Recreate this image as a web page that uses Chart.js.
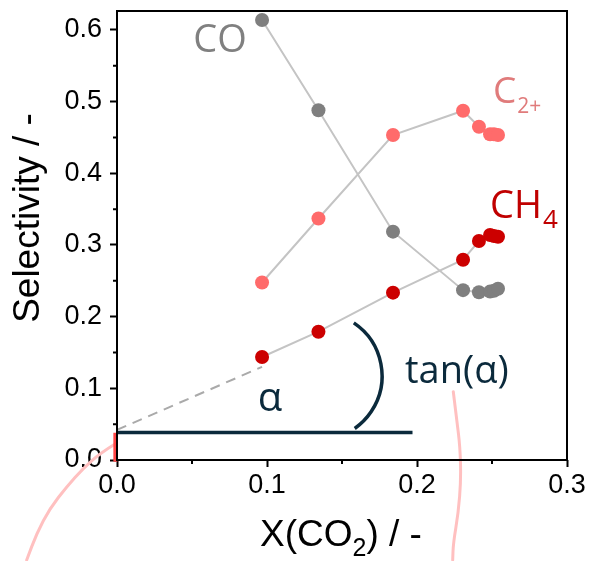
<!DOCTYPE html>
<html>
<head>
<meta charset="utf-8">
<script src="https://cdn.jsdelivr.net/npm/chart.js@4.4.0/dist/chart.umd.min.js"></script>
<style>
  html, body { margin: 0; padding: 0; background: #fff; }
  #wrap { width: 591px; height: 561px; }
</style>
</head>
<body>
<div id="wrap"><canvas id="selChart" width="591" height="561"></canvas></div>
<script>
// conversion X(CO2) and product selectivities
var conversion = [0.0967, 0.1343, 0.184, 0.2307, 0.2413, 0.2487, 0.2513, 0.254];
var selCO  = [0.614, 0.488, 0.3186, 0.237, 0.234, 0.235, 0.236, 0.239];
var selC2  = [0.2477, 0.337, 0.4535, 0.4874, 0.465, 0.4545, 0.4545, 0.4535];
var selCH4 = [0.1437, 0.179, 0.2335, 0.2795, 0.3056, 0.314, 0.3125, 0.3116];

// extrapolation of CH4 to zero conversion and the reference baseline
var extrapX = [0, 0.0967];
var extrapY = [0.042, 0.13];
var baseX = [0, 0.197];
var baseY = [0.0384, 0.0384];

// angle marker (centre in data units, radius in x units, angles in degrees)
var arcCentre = [0.134, 0.1172];
var arcRadius = 0.0427;
var arcAngles = [-56, 55];

// connector curves leading out of the plot
var linkAX = [-0.0013, -0.0113, -0.0225, -0.0335, -0.0447, -0.0535, -0.0602];
var linkAY = [0.0223, 0.0093, -0.0116, -0.0373, -0.0674, -0.1023, -0.1395];
var linkBX = [0.2242, 0.2265, 0.2287, 0.2293, 0.2275, 0.2242, 0.2238];
var linkBY = [0.0953, 0.0558, 0.0186, -0.0279, -0.0744, -0.1163, -0.1395];
var interceptBar = [-0.0011, 0.038, -0.0024];

var xTicks = [0, 0.1, 0.2, 0.3];
var yTicks = [0, 0.1, 0.2, 0.3, 0.4, 0.5, 0.6];

function pts(xs, ys) {
  return xs.map(function (x, i) { return { x: x, y: ys[i] }; });
}

function series(label, ys, color) {
  return {
    label: label,
    data: pts(conversion, ys),
    showLine: true,
    borderColor: '#c4c4c4',
    borderWidth: 2,
    pointRadius: 7,
    pointHoverRadius: 7,
    pointBackgroundColor: color,
    pointBorderWidth: 0,
  };
}

var NAVY = '#0b2a3c';

function smoothPath(ctx, p) {
  ctx.beginPath();
  ctx.moveTo(p[0].x, p[0].y);
  for (var i = 1; i < p.length - 1; i++) {
    var mx = (p[i].x + p[i + 1].x) / 2;
    var my = (p[i].y + p[i + 1].y) / 2;
    ctx.quadraticCurveTo(p[i].x, p[i].y, mx, my);
  }
  ctx.lineTo(p[p.length - 1].x, p[p.length - 1].y);
  ctx.stroke();
}

function toPx(chart, xs, ys) {
  var sx = chart.scales.x, sy = chart.scales.y;
  return xs.map(function (x, i) {
    return { x: sx.getPixelForValue(x), y: sy.getPixelForValue(ys[i]) };
  });
}

// label with an optional subscript tail
function subLabel(ctx, x, y, main, sub, size, subSize, drop, color, family) {
  ctx.fillStyle = color;
  ctx.textBaseline = 'alphabetic';
  ctx.textAlign = 'left';
  ctx.font = size + 'px ' + family;
  ctx.fillText(main, x, y);
  var w = ctx.measureText(main).width;
  ctx.font = subSize + 'px ' + family;
  ctx.fillText(sub, x + w + 1, y + drop);
}

var decor = {
  id: 'decor',
  beforeDatasetsDraw: function (chart) {
    var ctx = chart.ctx;
    var sx = chart.scales.x, sy = chart.scales.y;
    ctx.save();
    ctx.lineCap = 'round';
    ctx.strokeStyle = '#ffc0c0';
    ctx.lineWidth = 3;
    smoothPath(ctx, toPx(chart, linkAX, linkAY));
    smoothPath(ctx, toPx(chart, linkBX, linkBY));

    ctx.lineCap = 'butt';
    ctx.strokeStyle = '#ff4646';
    ctx.lineWidth = 4;
    ctx.beginPath();
    ctx.moveTo(sx.getPixelForValue(interceptBar[0]), sy.getPixelForValue(interceptBar[1]));
    ctx.lineTo(sx.getPixelForValue(interceptBar[0]), sy.getPixelForValue(interceptBar[2]));
    ctx.stroke();

    // angle arc
    var cx = sx.getPixelForValue(arcCentre[0]);
    var cy = sy.getPixelForValue(arcCentre[1]);
    var r = sx.getPixelForValue(arcRadius) - sx.getPixelForValue(0);
    ctx.strokeStyle = NAVY;
    ctx.lineWidth = 3.5;
    ctx.beginPath();
    ctx.arc(cx, cy, r, arcAngles[0] * Math.PI / 180, arcAngles[1] * Math.PI / 180);
    ctx.stroke();
    ctx.restore();
  },
  afterDraw: function (chart) {
    var ctx = chart.ctx;
    var a = chart.chartArea;
    var sx = chart.scales.x, sy = chart.scales.y;
    ctx.save();

    // frame
    ctx.strokeStyle = '#000';
    ctx.lineWidth = 2;
    ctx.strokeRect(a.left, a.top, a.right - a.left, a.bottom - a.top);

    // minor ticks halfway between labelled ones
    ctx.beginPath();
    for (var i = 0; i < xTicks.length - 1; i++) {
      var px = sx.getPixelForValue((xTicks[i] + xTicks[i + 1]) / 2);
      ctx.moveTo(px, a.bottom);
      ctx.lineTo(px, a.bottom + 4);
    }
    for (var j = 0; j < yTicks.length - 1; j++) {
      var py = sy.getPixelForValue((yTicks[j] + yTicks[j + 1]) / 2);
      ctx.moveTo(a.left, py);
      ctx.lineTo(a.left - 4, py);
    }
    ctx.stroke();

    // axis titles
    var sans = '"Liberation Sans", Arial, sans-serif';
    ctx.fillStyle = '#000';
    ctx.font = '37px ' + sans;
    var t1 = 'X(CO', t2 = '2', t3 = ') / -';
    var w1 = ctx.measureText(t1).width, w3 = ctx.measureText(t3).width;
    ctx.font = '25px ' + sans;
    var w2 = ctx.measureText(t2).width;
    var x0 = 341 - (w1 + w2 + w3) / 2;
    ctx.textBaseline = 'alphabetic';
    ctx.textAlign = 'left';
    ctx.font = '37px ' + sans;
    ctx.fillText(t1, x0, 546);
    ctx.font = '25px ' + sans;
    ctx.fillText(t2, x0 + w1, 556);
    ctx.font = '37px ' + sans;
    ctx.fillText(t3, x0 + w1 + w2, 546);

    ctx.save();
    ctx.translate(39, 218);
    ctx.rotate(-Math.PI / 2);
    ctx.textAlign = 'center';
    ctx.fillText('Selectivity / -', 0, 0);
    ctx.restore();

    // series labels and angle annotation
    var open = '"Open Sans", "Noto Sans", sans-serif';
    ctx.font = '38px ' + open;
    ctx.fillStyle = '#808080';
    ctx.textAlign = 'center';
    ctx.fillText('CO', sx.getPixelForValue(0.0687), sy.getPixelForValue(0.569));

    subLabel(ctx, sx.getPixelForValue(0.2507), sy.getPixelForValue(0.498),
      'C', '2+', 37, 21, 10, '#e07b7b', open);
    subLabel(ctx, sx.getPixelForValue(0.2487), sy.getPixelForValue(0.3377),
      'CH', '4', 38, 26, 10, '#c00000', open);

    ctx.fillStyle = NAVY;
    ctx.textAlign = 'center';
    ctx.font = '40px ' + open;
    ctx.fillText('\u03b1', sx.getPixelForValue(0.102), sy.getPixelForValue(0.0684));
    ctx.textAlign = 'left';
    ctx.font = '38px ' + open;
    ctx.fillText('tan(\u03b1)', sx.getPixelForValue(0.192), sy.getPixelForValue(0.1074));
    ctx.restore();
  },
};

new Chart(document.getElementById('selChart'), {
  type: 'scatter',
  data: {
    datasets: [
      series('CH4', selCH4, '#cc0000'),
      series('C2+', selC2, '#ff6b6b'),
      series('CO', selCO, '#7f7f7f'),
      {
        label: 'extrapolation',
        data: pts(extrapX, extrapY),
        showLine: true,
        borderColor: '#aaaaaa',
        borderWidth: 2,
        borderDash: [10, 7],
        pointRadius: 0,
      },
      {
        label: 'baseline',
        data: pts(baseX, baseY),
        showLine: true,
        borderColor: NAVY,
        borderWidth: 3.5,
        pointRadius: 0,
      },
    ],
  },
  options: {
    responsive: false,
    animation: false,
    layout: { padding: { top: 11, right: 24, left: 0, bottom: 0 } },
    plugins: {
      legend: { display: false },
      tooltip: { enabled: false },
    },
    scales: {
      x: {
        type: 'linear',
        min: 0,
        max: 0.3,
        afterFit: function (scale) {
          scale.height = 101;
          scale.paddingLeft = 0;
          scale.paddingRight = 0;
        },
        afterBuildTicks: function (scale) {
          scale.ticks = xTicks.map(function (v) { return { value: v }; });
        },
        border: { display: false },
        grid: { drawOnChartArea: false, drawTicks: true, tickLength: 7, tickWidth: 2, tickColor: '#000' },
        ticks: {
          color: '#000',
          font: { family: '"Liberation Sans", Arial, sans-serif', size: 27 },
          padding: 2,
          maxRotation: 0,
          callback: function (v) { return v.toFixed(1); },
        },
      },
      y: {
        type: 'linear',
        min: 0,
        max: 0.6265,
        afterFit: function (scale) {
          scale.width = 117;
          scale.paddingTop = 0;
          scale.paddingBottom = 0;
        },
        afterBuildTicks: function (scale) {
          scale.ticks = yTicks.map(function (v) { return { value: v }; });
        },
        border: { display: false },
        grid: { drawOnChartArea: false, drawTicks: true, tickLength: 7, tickWidth: 2, tickColor: '#000' },
        ticks: {
          color: '#000',
          font: { family: '"Liberation Sans", Arial, sans-serif', size: 27 },
          padding: 8,
          callback: function (v) { return v.toFixed(1); },
        },
      },
    },
  },
  plugins: [decor],
});
</script>
</body>
</html>
